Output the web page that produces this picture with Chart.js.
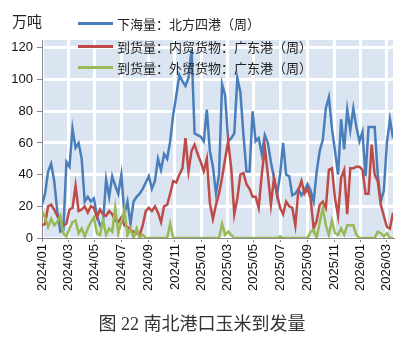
<!DOCTYPE html>
<html>
<head>
<meta charset="utf-8">
<script src="https://cdn.jsdelivr.net/npm/chart.js@4.4.1/dist/chart.umd.min.js"></script>
<style>
  body { margin: 0; background: #fff; }
  #wrap { position: relative; width: 412px; height: 339px; font-family: "Noto Sans CJK SC", sans-serif; color: #222; }
  canvas { position: absolute; left: 0; top: 0; }
  .unit { position: absolute; left: 12px; top: 12px; font-size: 15px; line-height: 18px; }
  .leg { position: absolute; left: 78px; height: 20px; display: flex; align-items: center; font-size: 13px; white-space: nowrap; }
  .leg i { display: inline-block; width: 35px; height: 3px; margin-right: 4px; }
  .cap { position: absolute; left: 0; width: 404px; top: 314px; line-height: 20px; text-align: center; font-size: 18px; color: #333;
         font-family: "Liberation Serif", "Noto Sans CJK SC", serif; }
</style>
</head>
<body>
<div id="wrap">
  <canvas id="chart" width="412" height="339"></canvas>
  <div class="unit">万吨</div>
  <div class="leg" style="top:13px"><i style="background:#4a7ebb"></i>下海量：北方四港（周）</div>
  <div class="leg" style="top:36px"><i style="background:#be4b48"></i>到货量：内贸货物：广东港（周）</div>
  <div class="leg" style="top:57px"><i style="background:#98b954"></i>到货量：外贸货物：广东港（周）</div>
  <div class="cap">图 22 南北港口玉米到发量</div>
</div>
<script>
// weekly values, 万吨, from first week of 2024
const northShipments = [
  21, 28, 42, 47, 36, 17, 4, 5, 48, 45,
  69, 57, 60, 50, 23, 26, 23, 25, 14, 8,
  10, 37, 26, 39, 33, 28, 40, 15, 23, 9,
  23, 26, 28, 31, 35, 39, 31, 36, 50, 43,
  53, 50, 61, 78, 90, 103, 99, 96, 101, 119,
  66, 65, 64, 61, 81, 55, 45, 28, 40, 97,
  90, 61, 63, 66, 101, 92, 65, 42, 42, 80,
  61, 63, 53, 65, 60, 48, 38, 27, 40, 60,
  40, 39, 27, 28, 31, 27, 30, 34, 30, 23,
  42, 55, 62, 82, 89, 69, 55, 40, 75, 56,
  81, 68, 82, 70, 61, 67, 39, 70, 70, 70,
  40, 23, 30, 60, 75, 63
]
const gdDomestic = [
  8, 9, 20, 21, 18, 14, 11, 8, 9, 18,
  19, 33, 17, 18, 20, 16, 20, 19, 13, 18,
  15, 14, 17, 15, 11, 10, 13, 8, 7, 5,
  4, 3, 2, 8, 17, 19, 17, 20, 16, 10,
  20, 21, 28, 36, 35, 40, 44, 63, 42, 55,
  59, 53, 48, 42, 50, 22, 12, 21, 28, 38,
  50, 61, 44, 15, 25, 40, 41, 34, 31, 26,
  26, 19, 40, 57, 40, 21, 38, 28, 19, 15,
  23, 20, 19, 8, 30, 36, 28, 31, 25, 6,
  11, 21, 23, 19, 43, 44, 25, 14, 38, 43,
  15, 44, 44, 45, 45, 43, 28, 28, 59, 40,
  36, 21, 14, 7, 6, 16
]
const gdForeign = [
  17, 13, 7, 12, 8, 10, 14, 3, 1, 6,
  10, 11, 3, 6, 1, 6, 10, 13, 3, 2,
  11, 2, 6, 4, 19, 3, 10, 18, 2, 6,
  0, 6, 0, 2, 0, 0, 0, 0, 0, 0,
  0, 0, 9, 0, 0, 0, 0, 0, 0, 0,
  0, 0, 0, 0, 0, 0, 0, 0, 0, 9,
  2, 4, 2, 0, 0, 0, 0, 0, 0, 0,
  0, 0, 0, 0, 0, 0, 0, 0, 1, 0,
  0, 0, 0, 0, 0, 0, 0, 0, 4, 5,
  0, 10, 19, 8, 2, 11, 3, 2, 6, 2,
  8, 8, 8, 2, 0, 0, 0, 0, 0, 0,
  4, 3, 1, 3, 0, 0
]
const tickLabels = ['2024/01', '2024/03', '2024/05', '2024/07', '2024/09', '2024/11', '2025/01',
  '2025/03', '2025/05', '2025/07', '2025/09', '2025/11', '2026/01', '2026/03']
const yTicks = [0, 20, 40, 60, 80, 100, 120]

// x = days since 2024-01-01
const dayOf = (label) => {
  const [y, m] = label.split('/').map(Number)
  return (Date.UTC(y, m - 1, 1) - Date.UTC(2024, 0, 1)) / 86400000
}
const weekDays = northShipments.map((_, i) => i * 7)

const plotBg = {
  id: 'plotBg',
  beforeDraw(c) {
    const a = c.chartArea
    c.ctx.save()
    c.ctx.fillStyle = '#dbe5f1'
    c.ctx.fillRect(a.left, a.top, a.right - a.left, a.bottom - a.top)
    c.ctx.restore()
  }
}

const tickFont = { family: 'Liberation Sans', size: 13 }

new Chart(document.getElementById('chart'), {
  type: 'line',
  data: {
    labels: weekDays,
    datasets: [
      { label: '下海量：北方四港（周）', data: northShipments, borderColor: '#4a7ebb', order: 2 },
      { label: '到货量：内贸货物：广东港（周）', data: gdDomestic, borderColor: '#be4b48', order: 1 },
      { label: '到货量：外贸货物：广东港（周）', data: gdForeign, borderColor: '#98b954', order: 0 }
    ]
  },
  options: {
    responsive: false,
    animation: false,
    layout: { padding: { top: 40, right: 19, left: 0, bottom: 0 } },
    elements: { point: { radius: 0 }, line: { borderWidth: 2.5, tension: 0 } },
    plugins: { legend: { display: false }, tooltip: { enabled: false } },
    scales: {
      x: {
        type: 'linear',
        min: 0,
        max: weekDays[weekDays.length - 1],
        afterBuildTicks: (s) => { s.ticks = tickLabels.map(l => ({ value: dayOf(l) })) },
        afterFit: (s) => { s.height = 101 },
        ticks: {
          autoSkip: false, minRotation: 90, maxRotation: 90, padding: 2,
          color: '#111', font: tickFont,
          callback: (v, i) => tickLabels[i]
        },
        grid: { color: '#fff', lineWidth: 3, tickColor: '#888', tickWidth: 1, tickLength: 4 },
        border: { color: '#888', width: 1 }
      },
      y: {
        min: 0,
        max: 125,
        afterBuildTicks: (s) => { s.ticks = yTicks.map(v => ({ value: v })) },
        afterFit: (s) => { s.width = 42 },
        ticks: { padding: 4, color: '#111', font: tickFont, callback: (v) => v },
        grid: { color: '#fff', lineWidth: 3, tickColor: '#888', tickWidth: 1, tickLength: 5 },
        border: { color: '#888', width: 1 }
      }
    }
  },
  plugins: [plotBg]
})
</script>
</body>
</html>
